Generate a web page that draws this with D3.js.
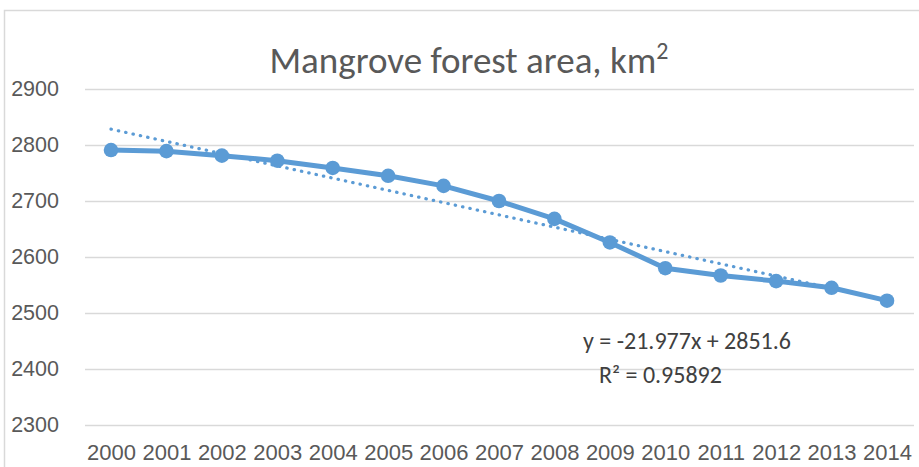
<!DOCTYPE html>
<html>
<head>
<meta charset="utf-8">
<script src="https://cdn.jsdelivr.net/npm/d3@7"></script>
<style>
  html, body { margin: 0; padding: 0; background: #fff; }
  svg { display: block; font-family: Carlito, Calibri, "Liberation Sans", sans-serif; }
</style>
</head>
<body>
<div id="chart"></div>
<script>
// mangrove forest area, km2
const years  = ['2000','2001','2002','2003','2004','2005','2006','2007','2008','2009','2010','2011','2012','2013','2014'];
const area   = [2791, 2789, 2781, 2772, 2759, 2745, 2727, 2700, 2668, 2626, 2580, 2567, 2557, 2545, 2522];
const yTicks = [2300, 2400, 2500, 2600, 2700, 2800, 2900];
const title  = 'Mangrove forest area, km';
const eqText = 'y = -21.977x + 2851.6';
const r2Text = 'R² = 0.95892';

const W = 919, H = 467;
const svg = d3.select('#chart').append('svg').attr('width', W).attr('height', H);

// chart frame (cut off at right and bottom like the screenshot)
svg.append('rect')
  .attr('x', 4.5).attr('y', 10.5).attr('width', 940).attr('height', 480)
  .attr('fill', '#fff').attr('stroke', '#d9d9d9').attr('stroke-width', 1.5);

const plot = { left: 85, right: 914, top: 89, bottom: 425 };

const x = d3.scalePoint().domain(years).range([111, 887]);
const y = d3.scaleLinear().domain([2300, 2900]).range([plot.bottom, plot.top]);

/* -------- gridlines + y labels -------- */
const yAxisG = svg.append('g')
  .attr('transform', `translate(${plot.left},0)`)
  .call(d3.axisLeft(y).tickValues(yTicks).tickSize(-(plot.right - plot.left)).tickPadding(26).tickFormat(d3.format('d')));
yAxisG.select('.domain').remove();
yAxisG.selectAll('line').attr('stroke', '#d9d9d9').attr('stroke-width', 1.5);
yAxisG.selectAll('text').attr('fill', '#595959').style('font-size', '21.5px');

/* -------- x labels -------- */
const xAxisG = svg.append('g')
  .attr('transform', `translate(0,${plot.bottom})`)
  .call(d3.axisBottom(x).tickSize(0).tickPadding(19));
xAxisG.select('.domain').remove();
xAxisG.selectAll('text').attr('fill', '#595959').style('font-size', '22px');

/* -------- linear trendline (least squares on index 1..n) -------- */
const n = area.length;
const idx = d3.range(1, n + 1);
const mx = d3.mean(idx), my = d3.mean(area);
const slope = d3.sum(idx, (k, i) => (k - mx) * (area[i] - my)) / d3.sum(idx, k => (k - mx) ** 2);
const icpt = my - slope * mx;

svg.append('line')
  .attr('x1', x(years[0])).attr('y1', y(icpt + slope * 1))
  .attr('x2', x(years[n - 1])).attr('y2', y(icpt + slope * n))
  .attr('stroke', '#5b9bd5').attr('stroke-width', 3.2)
  .attr('stroke-linecap', 'round').attr('stroke-dasharray', '0.4 7.1');

/* -------- data line + markers -------- */
const line = d3.line().x((d, i) => x(years[i])).y(d => y(d));
svg.append('path').datum(area)
  .attr('d', line).attr('fill', 'none')
  .attr('stroke', '#5b9bd5').attr('stroke-width', 5).attr('stroke-linejoin', 'round');

svg.append('g').selectAll('circle').data(area).enter().append('circle')
  .attr('cx', (d, i) => x(years[i])).attr('cy', d => y(d)).attr('r', 7.3)
  .attr('fill', '#5b9bd5');

/* -------- title -------- */
const t = svg.append('text')
  .attr('x', 469).attr('y', 73).attr('text-anchor', 'middle')
  .attr('fill', '#595959').style('font-size', '37px')
  .text(title);
t.append('tspan').attr('dy', -14).style('font-size', '24px').text('2');

/* -------- equation -------- */
svg.append('text').attr('x', 583).attr('y', 349)
  .attr('fill', '#404040').style('font-size', '24px').text(eqText);
svg.append('text').attr('x', 599).attr('y', 383)
  .attr('fill', '#404040').style('font-size', '24px').text(r2Text);
</script>
</body>
</html>
